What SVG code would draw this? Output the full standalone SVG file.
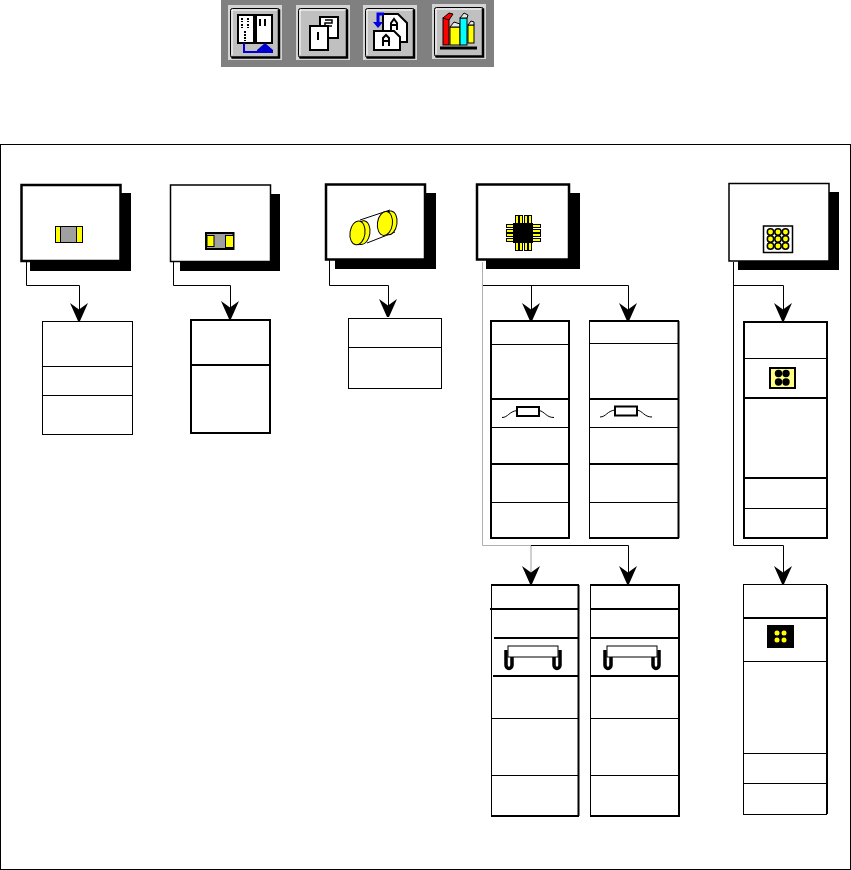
<svg xmlns="http://www.w3.org/2000/svg" width="851" height="870" viewBox="0 0 851 870">
<style>
.card{fill:#fff;stroke:#000;stroke-width:1.5}
.c2{fill:#fff;stroke:#000;stroke-width:2.5}
.sh{fill:#000}
.tb{fill:#fff;stroke:#000;stroke-width:1}
.tbb{fill:#fff;stroke:#000;stroke-width:2}
.d{stroke:#000;stroke-width:1;fill:none}
.db{stroke:#000;stroke-width:2;fill:none}
.con{stroke:#000;stroke-width:1;fill:none}
.ah{fill:#000}
.i{fill:#fff;stroke:#000;stroke-width:2}
.il{fill:none;stroke:#000;stroke-width:2}
.pad{fill:#ff0;stroke:#000;stroke-width:1}
</style>
<defs>
<path id="a" d="M-9 -17L0 -10.500L9 -17L1 1L-1 1Z"/>
<g id="btn"><rect x="-2" y="-3" width="54" height="55" fill="#d4d4d4"/><rect x="0.500" y="0.500" width="49" height="49" rx="2" fill="#c0c0c0" stroke="#000"/><path d="M1.500 49.500H49V1.500" stroke="#000" stroke-width="2.500" fill="none"/><path d="M2 47V2H47" stroke="#fff" fill="none"/></g>
<g id="res"><path d="M-26 6C-20 6-19 0-11 -1M11 -1C17 0 18 6 26 6" class="d"/><rect x="-11" y="-4.500" width="22" height="9" fill="#fff" stroke="#000" stroke-width="2"/></g>
<g id="coil"><path d="M-27 -11V4a3 3.500 0 0 0 6 0V-4M21 -4V4a3 3.500 0 0 0 6 0V-11" fill="none" stroke="#000" stroke-width="3.500"/><rect x="-25" y="-15" width="50" height="11" fill="#fff" stroke="#000"/></g>
</defs>
<rect width="851" height="870" fill="#fff"/>
<g id="toolbar">
<rect x="221" y="0" width="273" height="67" fill="#808080"/>
<g id="tool1" transform="translate(230 8)"><use href="#btn"/><rect class="i" x="8" y="7" width="16" height="28"/><rect class="i" x="26" y="7" width="16" height="28"/><path d="M12 10v4M18 10v4M12 16v4M18 16v4M15 23v10" stroke="#000" stroke-width="2" stroke-dasharray="2 1"/><path d="M30 11v7M35 11v7" stroke="#000" stroke-width="2"/><path d="M14 35V44H38" stroke="#0000d0" stroke-width="2" fill="none"/><path d="M27 42L35 35L43 42V45H27Z" fill="#0000d0"/></g>
<g id="tool2" transform="translate(298 8)"><use href="#btn"/><path class="i" d="M22 9H40V30H30V18H22Z"/><rect class="i" x="12" y="18" width="18" height="24"/><path d="M20 24v8" stroke="#000" stroke-width="2"/><path d="M27 12H34V15H27V18H34" stroke="#000" stroke-width="1.500" fill="none"/></g>
<g id="tool3" transform="translate(365 8)"><use href="#btn"/><path class="i" d="M18 6H33L42 15V34H18Z"/><path d="M26 22V15L29 11L32 15V22M26 17H32" class="il" stroke-width="1.500"/><path class="i" d="M9 23H29L35 29V42H9Z"/><path class="il" d="M18 38V30L21 27L24 30V38M18 33H24"/><path d="M19 6H13V15" stroke="#0000e0" stroke-width="3" fill="none"/><path d="M8 14L18 14L13 20Z" fill="#0000e0"/></g>
<g id="tool4" transform="translate(434 7)"><use href="#btn"/><rect x="9" y="11" width="6" height="27" fill="#ff0000" stroke="#000"/><path d="M9 11L15 6L19 7L15 13Z" fill="#ff0000" stroke="#000"/><rect x="16" y="20" width="10" height="18" fill="#ffff00" stroke="#000"/><path d="M16 20L20 15L26 17V20Z" fill="#e8e8e8" stroke="#000"/><rect x="26" y="11" width="7" height="27" fill="#00ffff" stroke="#000"/><path d="M26 11L30 6L34 8L33 11Z" fill="#e8e8e8" stroke="#000"/><rect x="34" y="18" width="6" height="18" fill="#ffff00" stroke="#000"/><path d="M34 18L37 14L40 15V18Z" fill="#e8e8e8" stroke="#000"/><path d="M6 41H43" stroke="#000" stroke-width="3"/></g>
</g>
<rect id="frame" x="0.500" y="144.500" width="850" height="725" fill="#fff" stroke="#000"/>
<g id="connectors">
<path class="con" d="M26.500 262V285.500H79.500V318"/>
<path class="con" d="M173.500 262V285.500H230.500V316"/>
<path class="con" d="M329.500 260V285.500H388.500V316"/>
<path class="con" d="M482.500 285.500H628.500V318M531.500 285.500V318"/>
<path d="M482.500 262V545.500H531" fill="none" stroke="#b0b0b0"/>
<path d="M531 545.500H628.500V582" class="con"/>
<path d="M531 546V582" fill="none" stroke="#d0d0d0" stroke-width="2"/>
<path class="con" d="M733.500 262V545.500H783.500V582M733 285.500H783.500V318"/>
<use href="#a" class="ah" transform="translate(79 320)"/>
<use href="#a" class="ah" transform="translate(230 318)"/>
<use href="#a" class="ah" transform="translate(388 316)"/>
<use href="#a" class="ah" transform="translate(531 320)"/>
<use href="#a" class="ah" transform="translate(628 320)"/>
<use href="#a" class="ah" transform="translate(531 583)"/>
<use href="#a" class="ah" transform="translate(628 583)"/>
<use href="#a" class="ah" transform="translate(783 320)"/>
<use href="#a" class="ah" transform="translate(783 583)"/>
</g>
<g id="card1"><rect class="sh" x="30" y="193" width="101" height="78"/><rect x="21.500" y="185" width="99" height="76" fill="#fff" stroke="#000" stroke-width="2.500"/><rect x="55.500" y="226.500" width="27" height="16" fill="#a0a0a0" stroke="#000"/><rect x="55.500" y="226.500" width="5" height="16" fill="#ff0" stroke="#000"/><rect x="76.500" y="226.500" width="6" height="16" fill="#ff0" stroke="#000"/></g>
<g id="card2"><rect class="sh" x="180" y="194" width="100" height="77"/><rect class="card" x="170.500" y="185" width="100" height="76.500"/><rect x="206" y="233" width="27.500" height="16" fill="#a0a0a0" stroke="#000" stroke-width="2"/><rect x="207" y="235.500" width="7" height="11" fill="#ff0" stroke="#000"/><rect x="225.500" y="235.500" width="8" height="12" fill="#ff0" stroke="#000"/></g>
<g id="card3"><rect class="sh" x="335" y="193" width="101" height="76"/><rect class="c2" x="326" y="184.500" width="99" height="75"/><path d="M360 220L390 210M367 243L395 232" stroke="#000"/><ellipse cx="362.500" cy="232.500" rx="7.500" ry="12" fill="#ff0" stroke="#000" transform="rotate(8 362 232)"/><ellipse cx="357.500" cy="233" rx="7.500" ry="12" fill="#ff0" stroke="#000" transform="rotate(8 358 233)"/><ellipse cx="389.500" cy="223" rx="7.500" ry="12" fill="#ff0" stroke="#000" transform="rotate(8 390 223)"/><ellipse cx="385" cy="223.500" rx="7.500" ry="12" fill="#ff0" stroke="#000" transform="rotate(8 385 223)"/></g>
<g id="card4"><rect class="sh" x="486" y="193" width="94" height="76"/><rect class="c2" x="477" y="184.500" width="92" height="75"/><g class="pad"><rect x="515.500" y="215.500" width="3" height="35"/><rect x="519.500" y="215.500" width="3" height="35"/><rect x="524.500" y="215.500" width="3" height="35"/><rect x="528.500" y="215.500" width="3" height="35"/><rect x="506.500" y="224.500" width="34" height="3"/><rect x="506.500" y="229.500" width="34" height="3"/><rect x="506.500" y="233.500" width="34" height="3"/><rect x="506.500" y="238.500" width="34" height="3"/></g><rect x="513" y="223" width="20" height="20" fill="#000"/></g>
<g id="card5"><rect class="sh" x="738" y="192" width="101" height="78"/><rect class="card" x="729" y="183.500" width="100" height="77.500"/><rect x="763.500" y="226" width="29" height="26.500" fill="#fff" stroke="#000" stroke-width="1.500"/><g fill="#ff0" stroke="#000" stroke-width="1.500"><circle cx="770.500" cy="232" r="3.200"/><circle cx="778" cy="232" r="3.200"/><circle cx="785.500" cy="232" r="3.200"/><circle cx="770.500" cy="239" r="3.200"/><circle cx="778" cy="239" r="3.200"/><circle cx="785.500" cy="239" r="3.200"/><circle cx="770.500" cy="246" r="3.200"/><circle cx="778" cy="246" r="3.200"/><circle cx="785.500" cy="246" r="3.200"/></g></g>
<g id="table1"><rect class="tb" x="42.500" y="321.500" width="90" height="113"/><path class="d" d="M43 366.500H132M43 395.500H132"/></g>
<g id="table2"><rect class="tbb" x="191" y="320" width="79" height="113"/><path class="db" d="M191 365H270"/></g>
<g id="table3"><rect class="tb" x="348.500" y="318.500" width="93" height="70"/><path class="d" d="M349 347.500H441"/></g>
<g id="table4"><rect class="tbb" x="491" y="321" width="78" height="217"/><path class="d" d="M491 344.500H569M491 427.500H569M491 502.500H569"/><path class="db" d="M491 399H569M491 464H569"/><use href="#res" transform="translate(528 411.500)"/></g>
<g id="table5"><rect class="tb" x="589.500" y="321" width="89" height="217"/><path d="M678.500 321V538" class="db"/><path d="M589 321H679M589 538H679" class="db"/><path class="d" d="M590 343.500H678M590 427.500H678M590 502.500H678"/><path class="db" d="M590 399H678M590 464H678"/><use href="#res" transform="translate(626 411)"/></g>
<g id="table6"><rect class="tb" x="491.500" y="585" width="87" height="231"/><path class="db" d="M491 585H579M491 816H579M578.500 585V816M490 609H579M494 638H579M493 676H579"/><path class="d" d="M492 718.500H579M492 775.500H579"/><use href="#coil" transform="translate(533 661)"/></g>
<g id="table7"><rect class="tb" x="590.500" y="585" width="88.500" height="231"/><path class="db" d="M590 585H680M590 816H680M679 585V816M591 609H679M591 638H679M591 676H679"/><path class="d" d="M591 718.500H679M591 775.500H679"/><use href="#coil" transform="translate(632 661)"/></g>
<g id="table8"><rect class="tbb" x="744" y="322" width="83" height="216"/><path class="d" d="M744 358.500H827M744 508.500H827"/><path class="db" d="M744 398H827M744 478H827"/><rect x="770" y="368" width="25" height="20" fill="#ffff80" stroke="#000" stroke-width="2"/><g fill="#000"><circle cx="778.500" cy="373.500" r="3.700"/><circle cx="786" cy="373.500" r="3.700"/><circle cx="778.500" cy="382" r="3.700"/><circle cx="786" cy="382" r="3.700"/></g></g>
<g id="table9"><rect class="tb" x="743.500" y="584.500" width="83" height="230"/><path d="M827 585V814" class="db"/><path class="db" d="M744 618H827"/><path class="d" d="M744 661.500H827M744 753.500H827M744 783.500H827"/><rect x="767" y="625" width="27" height="23" fill="#000"/><g fill="#ff0"><circle cx="777" cy="633" r="2.500"/><circle cx="784" cy="633" r="2.500"/><circle cx="777" cy="640" r="2.500"/><circle cx="784" cy="640" r="2.500"/></g></g>
</svg>
